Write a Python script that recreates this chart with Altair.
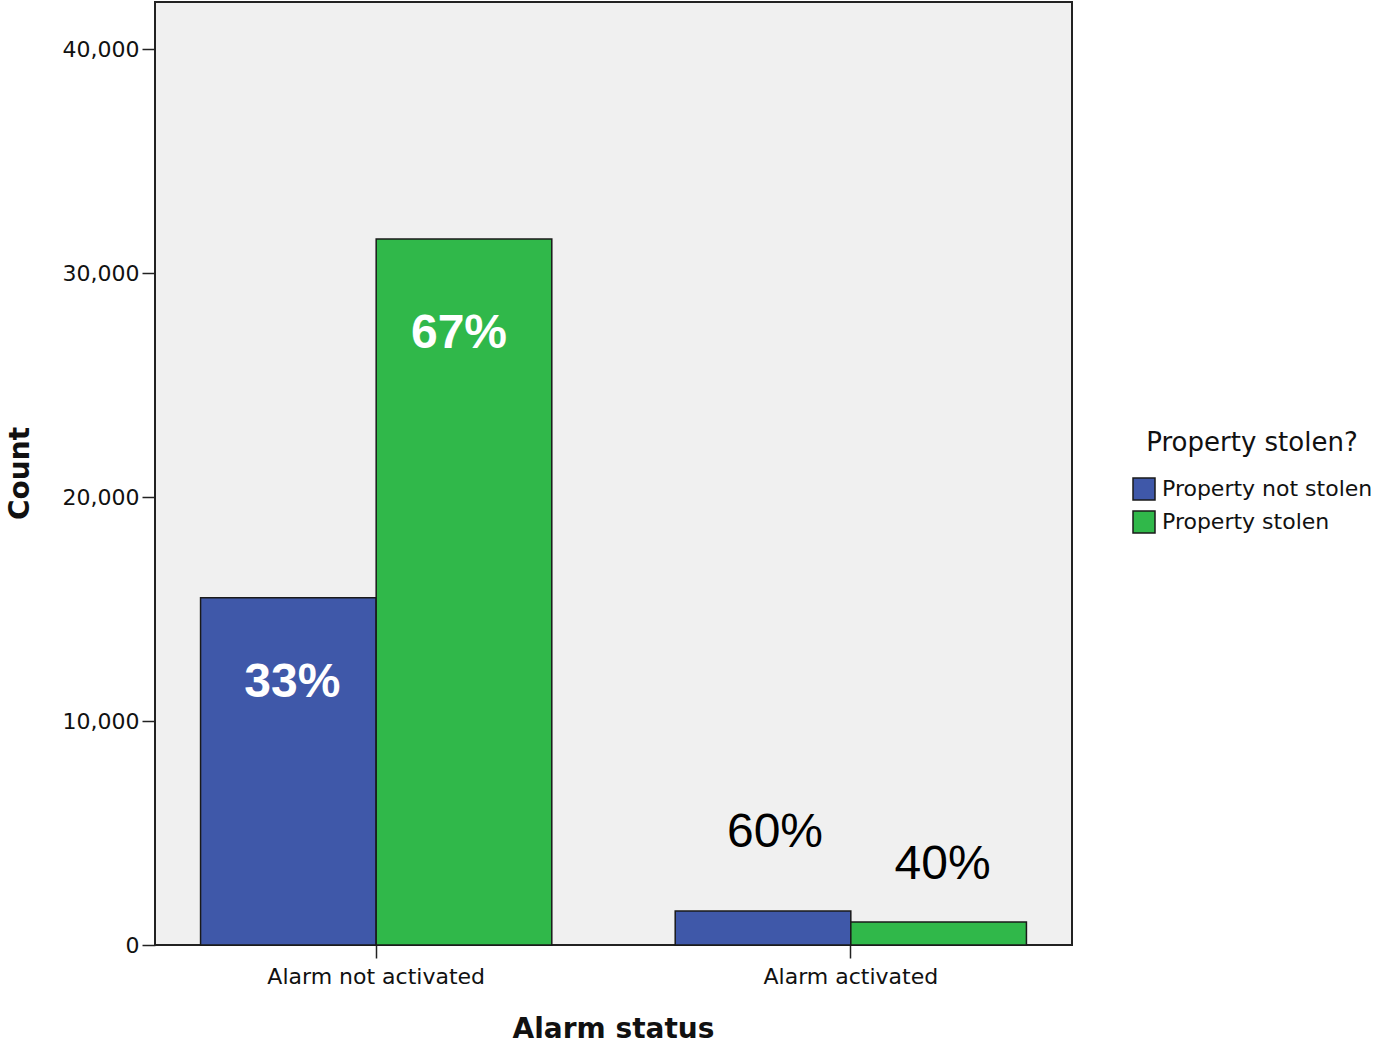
import altair as alt
import pandas as pd

alarm_status = ["Alarm not activated", "Alarm not activated", "Alarm activated", "Alarm activated"]
property_stolen = ["Property not stolen", "Property stolen", "Property not stolen", "Property stolen"]
counts = [15500, 31520, 1520, 1030]
pct_labels = ["33%", "67%", "60%", "40%"]

x_order = ["Alarm not activated", "Alarm activated"]
group_order = ["Property not stolen", "Property stolen"]
colors = ["#3f58a9", "#30b84a"]
y_ticks = [0, 10000, 20000, 30000, 40000]

df = pd.DataFrame({
    "alarm": alarm_status,
    "stolen": property_stolen,
    "count": counts,
    "label": pct_labels,
})

x_enc = alt.X("alarm:N", sort=x_order, title="Alarm status",
              scale=alt.Scale(paddingInner=0.26, paddingOuter=0.096),
              axis=alt.Axis(labelAngle=0, tickSize=13, labelPadding=8, labelLimit=500,
                            titleX=458, titleY=84, titleBaseline="middle"))
xoff_enc = alt.XOffset("stolen:N", sort=group_order, scale=alt.Scale(paddingInner=0, paddingOuter=0))
y_enc = alt.Y("count:Q", title="Count",
              scale=alt.Scale(domain=[0, 42100], nice=False, zero=True),
              axis=alt.Axis(values=y_ticks, format=",.0f", tickSize=13, labelPadding=3,
                            titleX=-135, titleY=471, titleAngle=-90,
                            titleBaseline="middle", titleAlign="center"))

base = alt.Chart(df)

bars = base.mark_bar(stroke="#1a1a1a", strokeWidth=1.5).encode(
    x=x_enc, xOffset=xoff_enc, y=y_enc,
    color=alt.Color("stolen:N", sort=group_order, title="Property stolen?",
                    scale=alt.Scale(domain=group_order, range=colors),
                    legend=alt.Legend(orient="none", legendX=977, legendY=428,
                                      symbolType="square", symbolSize=484,
                                      symbolStrokeColor="#1a1a1a", symbolStrokeWidth=1.5,
                                      symbolOpacity=1, titleAnchor="middle", titleLimit=500,
                                      labelLimit=500,
                                      rowPadding=5, labelOffset=6, titlePadding=21)),
)

label_styles = {
    "33%": dict(color="white", fontWeight="bold", dx=4, dy=85),
    "67%": dict(color="white", fontWeight="bold", dx=-5, dy=95),
    "60%": dict(color="black", fontWeight="normal", dx=12, dy=-78),
    "40%": dict(color="black", fontWeight="normal", dx=4, dy=-57),
}

layers = [bars]
for lab, st in label_styles.items():
    layers.append(
        base.transform_filter(alt.datum.label == lab).mark_text(
            fontSize=48, font="Liberation Sans", baseline="middle", align="center", **st
        ).encode(x=x_enc, xOffset=xoff_enc, y=y_enc, text="label:N")
    )

chart = alt.layer(*layers).properties(
    width=917, height=943,
    autosize=alt.AutoSizeParams(type="none"),
    padding={"left": 155, "top": 2, "right": 305, "bottom": 100},
    background="white",
).configure_view(
    fill="#f0f0f0", stroke="#222222", strokeWidth=2,
).configure_axis(
    grid=False, domain=False, tickColor="#222222", tickWidth=1.5,
    labelFont="DejaVu Sans", labelFontSize=22, labelColor="#111111",
    titleFont="DejaVu Sans", titleFontSize=28, titleFontWeight="bold", titleColor="#111111",
).configure_legend(
    titleFont="DejaVu Sans", titleFontSize=26, titleFontWeight="normal", titleColor="#111111",
    labelFont="DejaVu Sans", labelFontSize=22, labelColor="#111111",
)

chart.save("out.html", embed_options={"renderer": "svg", "actions": False})
